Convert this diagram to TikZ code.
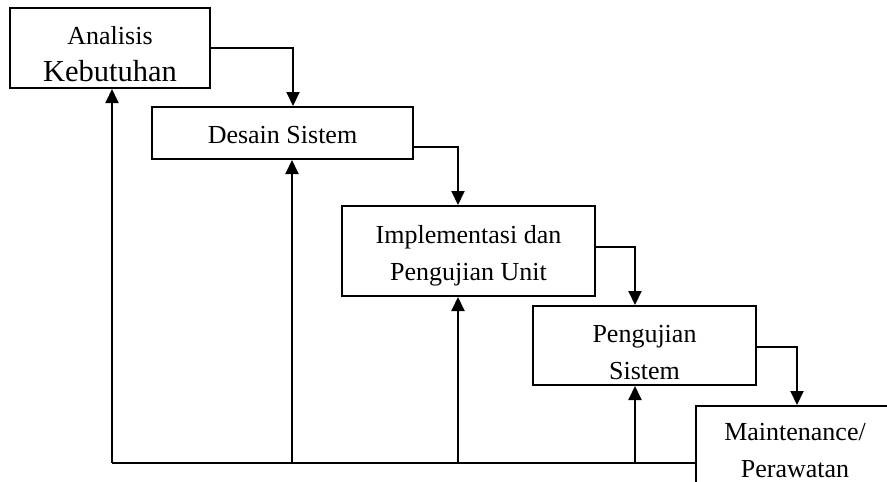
\documentclass[tikz,border=0pt]{standalone}
\usepackage{fontspec}
\setmainfont{Liberation Serif}
\usetikzlibrary{arrows.meta}
\begin{document}
\begin{tikzpicture}[x=1pt,y=-1pt,
  box/.style={draw,line width=2pt,rectangle,inner sep=0pt},
  txt/.style={inner sep=0pt,align=center,font=\fontsize{26}{37}\selectfont},
  link/.style={line width=2pt},
  arr/.style={line width=2pt,-{Triangle[length=14pt,width=13pt]}}]
\clip (0,0) rectangle (887,482);
\useasboundingbox (0,0) rectangle (887,482);
\node[box,minimum width=200pt,minimum height=80pt] (b1) at (110,48) {};
\node[box,minimum width=261pt,minimum height=52pt] (b2) at (282.5,133) {};
\node[box,minimum width=253pt,minimum height=90pt] (b3) at (468.5,251) {};
\node[box,minimum width=223pt,minimum height=79pt] (b4) at (644.5,345.5) {};
\node[box,minimum width=200pt,minimum height=100pt,anchor=north west] (b5) at (695,405) {};
\node[txt] (l1) at ([yshift=-6pt]b1.center)
  {Analisis\\{\fontsize{30.5}{37}\selectfont Kebutuhan}};
\node[txt] (l2) at ([yshift=-2pt]b2.center) {Desain Sistem};
\node[txt] (l3) at ([yshift=-5pt]b3.center) {Implementasi dan\\Pengujian Unit};
\node[txt] (l4) at ([yshift=-7pt]b4.center) {Pengujian\\Sistem};
\node[txt] (l5) at (795,451) {Maintenance/\\Perawatan};
% forward arrows
\draw[arr] (b1.east) -| ([xshift=10.5pt]b2.north);
\draw[arr] ([yshift=-14pt]b2.east) -| ([xshift=-10.5pt]b3.north);
\draw[arr] ([yshift=4pt]b3.east) -| ([xshift=-9.5pt]b4.north);
\draw[arr] ([yshift=-1.5pt]b4.east) -| ([xshift=1pt]b5.north);
% feedback
\coordinate (bl) at (112,463);
\path ([xshift=2pt]b1.south) coordinate (t1)
      ([xshift=9.5pt]b2.south) coordinate (t2)
      ([xshift=-10.5pt]b3.south) coordinate (t3)
      ([xshift=-9.5pt]b4.south) coordinate (t4);
\draw[link] (b5.west |- bl) -- (bl);
\draw[arr] (t1 |- bl) -- (t1);
\draw[arr] (t2 |- bl) -- (t2);
\draw[arr] (t3 |- bl) -- (t3);
\draw[arr] (t4 |- bl) -- (t4);
\end{tikzpicture}
\end{document}
